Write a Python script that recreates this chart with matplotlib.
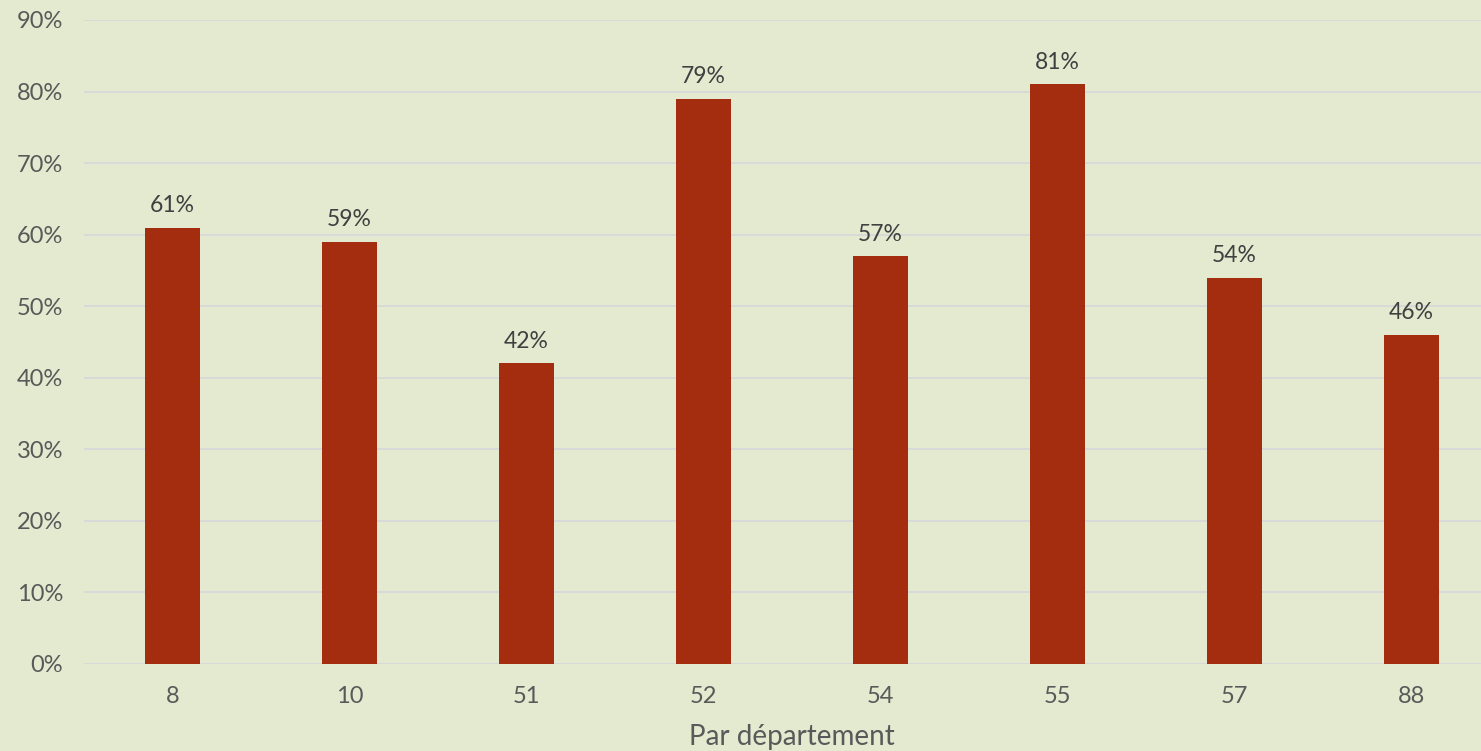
import matplotlib.pyplot as plt
from matplotlib.ticker import FuncFormatter

departements = ['8', '10', '51', '52', '54', '55', '57', '88']
taux = [61, 59, 42, 79, 57, 81, 54, 46]

bg = '#E3EAD0'
bar_color = '#A52D0F'
text_color = '#595959'

plt.rcParams['font.family'] = ['Lato', 'DejaVu Sans']

fig = plt.figure(figsize=(14.81, 7.51), dpi=100, facecolor=bg)
ax = fig.add_axes([84 / 1481, 87 / 751, 1416 / 1481, 644 / 751])
ax.set_facecolor(bg)

x = range(len(departements))
bars = ax.bar(x, taux, width=0.31, color=bar_color, zorder=3)

for i, v in enumerate(taux):
    ax.text(i, v + 1.6, f'{v}%', ha='center', va='bottom', fontsize=16.5, color='#404040')

ax.set_xlim(-0.5, len(departements) - 0.5)
ax.set_ylim(0, 90)
ax.set_yticks(range(0, 91, 10))
ax.yaxis.set_major_formatter(FuncFormatter(lambda v, p: f'{int(v)}%'))
ax.set_xticks(list(x))
ax.set_xticklabels(departements)
ax.grid(axis='y', color='#D9D9D9', linewidth=1.3, zorder=0)
ax.tick_params(length=0, labelsize=17, colors=text_color)
ax.tick_params(axis='x', pad=16)
ax.tick_params(axis='y', pad=15)
for s in ax.spines.values():
    s.set_visible(False)

ax.set_xlabel('Par département', fontsize=20, color=text_color, labelpad=12)

fig.savefig('out.png', dpi=100, facecolor=bg)
